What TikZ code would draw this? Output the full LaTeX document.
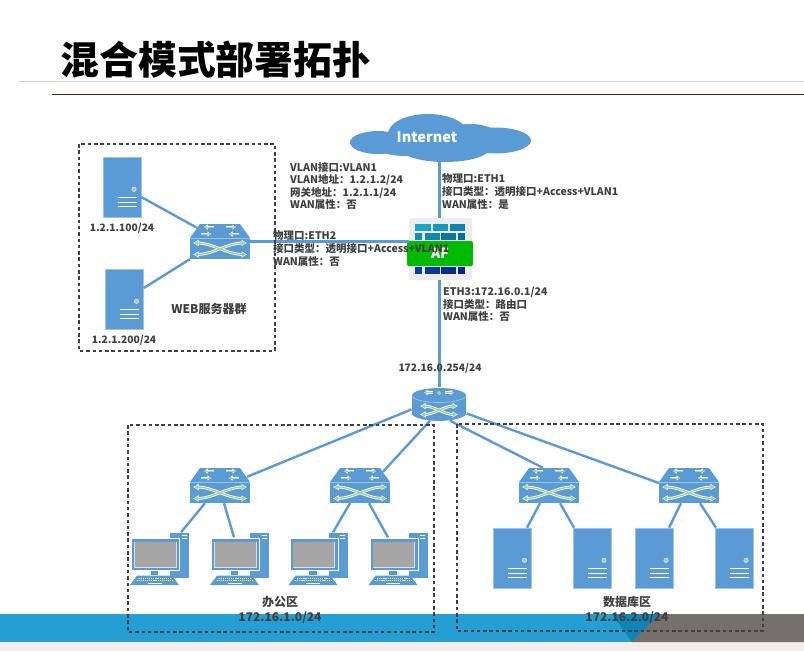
\documentclass[tikz,border=0pt]{standalone}
\usepackage{fontspec}
\setmainfont{Noto Sans CJK SC}
\usetikzlibrary{arrows.meta}
\definecolor{netblue}{HTML}{5B9BD5}
\definecolor{paleblue}{HTML}{9DC3E6}
\definecolor{palegreen}{HTML}{A9D18E}
\definecolor{labelgray}{HTML}{404040}
\definecolor{bandblue}{HTML}{259ED3}
\definecolor{banddark}{HTML}{0F84B8}
\definecolor{bandgray}{HTML}{76706C}
\definecolor{bandpale}{HTML}{F0EDEA}
\definecolor{afgreen}{HTML}{00BA00}
\definecolor{afgray}{HTML}{ECECEC}
\newcommand{\crossarrows}[3]{
    \draw[white,line width=2.8pt,{Latex[length=5.5pt,width=7pt]}-{Latex[length=5.5pt,width=7pt]}] (-#1,#2) .. controls (-#1*0.3,#2) and (#1*0.3,#3) .. (#1,#3);
    \draw[white,line width=2.8pt,{Latex[length=5.5pt,width=7pt]}-{Latex[length=5.5pt,width=7pt]}] (-#1,#3) .. controls (-#1*0.3,#3) and (#1*0.3,#2) .. (#1,#2);
    \draw[palegreen,line width=1.3pt,{Latex[length=4pt,width=4.5pt]}-{Latex[length=4pt,width=4.5pt]}] (-#1+0.8,#2) .. controls (-#1*0.3,#2) and (#1*0.3,#3) .. (#1-0.8,#3);
    \draw[palegreen,line width=1.3pt,{Latex[length=4pt,width=4.5pt]}-{Latex[length=4pt,width=4.5pt]}] (-#1+0.8,#3) .. controls (-#1*0.3,#3) and (#1*0.3,#2) .. (#1-0.8,#2);
}
\newcommand{\smallarrow}[3]{
    \draw[white,line width=2.6pt,-{Latex[length=3.5pt,width=6pt]}] (#1,#3) -- (#2,#3);
    \draw[palegreen,line width=1pt,-{Latex[length=2.5pt,width=3pt]}] (#1,#3) -- (#2,#3);
}
\begin{document}
\begin{tikzpicture}[x=1pt,y=-1pt]
    \tikzstyle{serverbox}=[rectangle,fill=netblue,draw=paleblue,line width=0.6pt,inner sep=0pt,minimum width=38pt,minimum height=60pt,
        path picture={\begin{scope}[shift={(path picture bounding box.center)},x=1pt,y=-1pt]
            \fill[palegreen,draw=paleblue!40,line width=0.5pt] (12,2.3) circle (2.2);
            \foreach \ly in {10.3,15,19.7} \draw[white,line width=0.9pt] (-4.5,\ly) -- (14.5,\ly);
        \end{scope}}]
    \tikzstyle{switchbox}=[rectangle,inner sep=0pt,minimum width=60pt,minimum height=35pt,
        path picture={\begin{scope}[shift={(path picture bounding box.center)},x=1pt,y=-1pt]
            \fill[netblue] (-20,-17.5) -- (20,-17.5) -- (30,-3.5) -- (-30,-3.5) -- cycle;
            \fill[netblue] (-30,-2.8) rectangle (30,17.5);
            \draw[paleblue,line width=0.5pt] (-30,-3.1) -- (30,-3.1);
            \crossarrows{27}{1.5}{13}
            \smallarrow{-6}{-16}{-14.5}
            \smallarrow{-19}{-9}{-7.5}
            \smallarrow{6}{16}{-14.5}
            \smallarrow{19}{9}{-7.5}
        \end{scope}}]
    \tikzstyle{routerbox}=[rectangle,inner sep=0pt,minimum width=55pt,minimum height=34pt,
        path picture={\begin{scope}[shift={(path picture bounding box.center)},x=1pt,y=-1pt]
            \fill[netblue] (-27,-9) -- (-27,10) .. controls (-20,18.5) and (20,18.5) .. (27,10) -- (27,-9) -- cycle;
            \fill[netblue] (0,-9) circle[x radius=27,y radius=7.5];
            \draw[paleblue,line width=0.7pt] (-27,-8) .. controls (-20,0) and (20,0) .. (27,-8);
            \crossarrows{19}{1.5}{10}
            \smallarrow{-6}{-15}{-12}
            \smallarrow{6}{15}{-12}
            \fill[palegreen] (0,-11.5) circle (2);
        \end{scope}}]
    \tikzstyle{pcbox}=[rectangle,inner sep=0pt,minimum width=60pt,minimum height=53pt,
        path picture={\begin{scope}[shift={(path picture bounding box.center)},x=1pt,y=-1pt]
            \fill[netblue] (10.5,-26) rectangle (29.5,19);
            \draw[white,line width=0.7pt] (22,-23.5) -- (27,-23.5) (22,-20.8) -- (27,-20.8);
            \fill[white] (-28.5,-21) rectangle (20.5,12);
            \fill[netblue] (-27.5,-20) rectangle (19.5,11);
            \fill[white!75!gray] (-25.5,-17.5) rectangle (17,8.5);
            \fill[gray!70] (-24.8,-16.7) rectangle (16,7.7);
            \fill[netblue] (-9,11.5) rectangle (-1.5,15.5);
            \fill[netblue] (-22.5,16.7) -- (12.5,16.7) -- (19.5,26) -- (-29.5,26) -- cycle;
            \draw[white,line width=1.1pt,dash pattern=on 1.2pt off 0.9pt] (-21,19.2) -- (12,19.2) (-23,21.6) -- (14,21.6);
            \draw[white,line width=0.9pt] (-12,24.3) -- (2,24.3);
        \end{scope}}]
    \tikzstyle{zonebox}=[draw=labelgray,line width=1.8pt,dash pattern=on 3.5pt off 2.8pt]
    \tikzstyle{netline}=[draw=netblue,line width=2.4pt]
    \tikzstyle{infotext}=[font=\fontsize{10.5}{12.6}\selectfont\bfseries,text=labelgray,inner sep=0pt,align=left,anchor=west]
    \tikzstyle{nametext}=[font=\fontsize{10.2}{15}\selectfont\bfseries,text=labelgray,inner sep=0pt,align=center]
    \tikzstyle{zonetext}=[font=\fontsize{12}{15}\selectfont\bfseries,text=labelgray,inner sep=0pt,align=center]
    \useasboundingbox (0,0) rectangle (804,651);
    \fill[white] (0,0) rectangle (804,651);
    \fill[bandpale] (0,642) rectangle (804,651);
    \fill[bandblue] (0,614) rectangle (804,642);
    \fill[banddark] (612,614) -- (660,614) -- (632,642) -- cycle;
    \fill[bandgray] (660,614) -- (804,614) -- (804,642) -- (632,642) -- cycle;
    \draw[black!18,line width=1pt] (19,81) -- (804,81);
    \draw[black!70!orange,line width=1pt] (52,94.5) -- (804,94.5);
    \node[font=\fontsize{38.8}{38.8}\selectfont\bfseries,inner sep=0pt,anchor=west] (title) at (60.5,60) {混合模式部署拓扑};
    \fill[netblue] (378,142.5) ellipse[x radius=28,y radius=11.5];
    \fill[netblue] (428,134) ellipse[x radius=40,y radius=20];
    \fill[netblue] (495,140.5) ellipse[x radius=36,y radius=13];
    \fill[netblue] (445,148) ellipse[x radius=45,y radius=14];
    \fill[netblue] (470,138) ellipse[x radius=30,y radius=14];
    \fill[netblue] (405,145) ellipse[x radius=30,y radius=11];
    \node[font=\fontsize{14.5}{15}\selectfont\bfseries,text=white,inner sep=0pt,minimum width=62pt] (internet) at (427,137) {Internet};
    \node[serverbox] (web1) at (122,187) {};
    \node[serverbox] (web2) at (124.5,299) {};
    \node[switchbox] (websw) at (220,241.5) {};
    \node[routerbox] (core) at (439,404.5) {};
    \node[switchbox] (officesw1) at (220,485.5) {};
    \node[switchbox] (officesw2) at (360,485.5) {};
    \node[switchbox] (datasw1) at (549,485.5) {};
    \node[switchbox] (datasw2) at (689,485.5) {};
    \node[pcbox] (pc1) at (159.5,559) {};
    \node[pcbox] (pc2) at (239.5,559) {};
    \node[pcbox] (pc3) at (318,559) {};
    \node[pcbox] (pc4) at (398,559) {};
    \node[serverbox] (db1) at (512.5,558) {};
    \node[serverbox] (db2) at (592,558) {};
    \node[serverbox] (db3) at (654,558) {};
    \node[serverbox] (db4) at (734,558) {};
    \node[rectangle,fill=afgray,rounded corners=1.5pt,inner sep=0pt,minimum width=63pt,minimum height=62pt] (af) at (440.5,249) {};
    \foreach \bx/\bw/\by/\bc in {415/16/224/1BA6C4,433/15/224/1797BC,450/15/224/1283AC,
        415/7/233/138FB5,425/15/233/1188B0,441/15/233/0E75A3,458/7/233/0C6A9A,
        415/7/267/0C3F96,425/15/267/0A3798,441/15/267/072A8E,458/7/267/06248A}
        {\definecolor{brickcolor}{HTML}{\bc}\fill[brickcolor] (\bx,\by) rectangle +(\bw,6.8);}
    \node[rectangle,fill=afgreen,rounded corners=1.5pt,text=white,inner sep=0pt,minimum width=66pt,minimum height=25pt,font=\fontsize{14}{14}\selectfont\bfseries] (afband) at (440,253.5) {AF};
    \draw[netline] ([xshift=12.5pt,yshift=-17pt]internet.south) -- ([xshift=-1pt]af.north);
    \draw[netline] ([xshift=-1pt]af.south) -- ([xshift=0.5pt]core.north);
    \draw[netline] (websw.east) -- (websw.east -| af.west);
    \draw[netline] ([yshift=-10pt]web1.east) -- ([xshift=-23pt,yshift=-4pt]websw.north);
    \draw[netline] ([yshift=11pt]web2.east) -- (websw.south west);
    \draw[netline] ([xshift=-15pt]officesw1.south) -- ([xshift=21.5pt]pc1.north);
    \draw[netline] ([xshift=4pt]officesw1.south) -- ([xshift=-5.5pt,yshift=-5pt]pc2.north);
    \draw[netline] ([xshift=-10pt]officesw2.south) -- ([xshift=15pt]pc3.north);
    \draw[netline] ([xshift=9pt]officesw2.south) -- ([xshift=-10pt,yshift=-5pt]pc4.north);
    \draw[netline] ([xshift=-9pt]datasw1.south) -- ([xshift=14.5pt]db1.north);
    \draw[netline] ([xshift=11pt]datasw1.south) -- ([xshift=-18pt]db2.north);
    \draw[netline] ([xshift=-8pt]datasw2.south) -- ([xshift=15pt]db3.north);
    \draw[netline] ([xshift=11pt]datasw2.south) -- ([xshift=-18pt]db4.north);
    \draw[netline] ([yshift=-5pt]core.west) -- ([xshift=27pt,yshift=-9pt]officesw1.north);
    \draw[netline] ([xshift=-9pt,yshift=1pt]core.south) -- ([xshift=23pt,yshift=-4pt]officesw2.north);
    \draw[netline] ([xshift=11pt,yshift=1pt]core.south) -- ([xshift=-6pt]datasw1.north);
    \draw[netline] ([yshift=-9pt]core.east) -- ([yshift=2.5pt]datasw2.west);
    \draw[zonebox] (79,144) rectangle (275,351);
    \draw[zonebox] (128,425) rectangle (434,632);
    \draw[zonebox] (457,424) rectangle (763,631);
    \node[infotext] (vlaninfo) at (290,186) {VLAN接口:VLAN1\\VLAN地址：1.2.1.2/24\\网关地址：1.2.1.1/24\\WAN属性：否};
    \node[infotext] (eth1info) at (442,191.5) {物理口:ETH1\\接口类型：透明接口+Access+VLAN1\\WAN属性：是};
    \node[infotext] (eth2info) at (273,248.5) {物理口:ETH2\\接口类型：透明接口+Access+VLAN1\\WAN属性：否};
    \node[infotext] (eth3info) at (443,304.5) {ETH3:172.16.0.1/24\\接口类型：路由口\\WAN属性：否};
    \node[nametext] (corename) at (440,368) {172.16.0.254/24};
    \node[nametext] (web1name) at (122,228) {1.2.1.100/24};
    \node[nametext] (web2name) at (124,340.5) {1.2.1.200/24};
    \node[zonetext] (webname) at (209,308.5) {WEB服务器群};
    \node[zonetext] (officename) at (280,609.5) {办公区\\172.16.1.0/24};
    \node[zonetext] (dataname) at (627,609.5) {数据库区\\172.16.2.0/24};
\end{tikzpicture}
\end{document}
